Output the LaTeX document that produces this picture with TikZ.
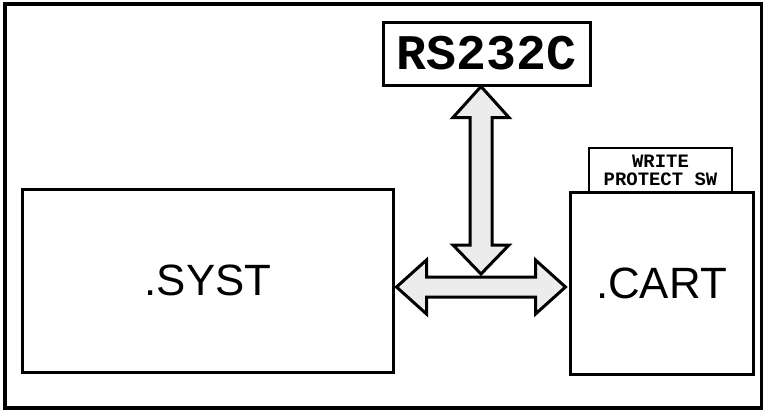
\documentclass[tikz,border=0pt]{standalone}
\usepackage{fontspec}
\setmainfont{Liberation Sans}
\newfontfamily\pixfont{Liberation Mono}
\usepackage{xcolor}
\usetikzlibrary{calc}
\definecolor{stipple}{RGB}{236,236,236}
\tikzset{bigbox/.style={rectangle, draw=black, line width=3bp, fill=white, inner sep=0pt, align=center, font=\fontsize{44}{48}\selectfont}, tagbox/.style={rectangle, draw=black, line width=2.5bp, fill=white, inner sep=0pt, align=center, font=\pixfont\bfseries\fontsize{19}{18}\selectfont}, fatarrow/.style={draw=black, line width=3bp, fill=stipple, line join=miter}}

\begin{document}
\begin{tikzpicture}[x=1bp, y=-1bp]
\useasboundingbox (0,0) rectangle (763,411);
\draw[line width=3.5bp] (5,4) rectangle (762,408);
\node[bigbox, minimum width=370bp, minimum height=183bp] (syst) at (208,280.5) {.SYST};
\node[tagbox, minimum width=143bp, minimum height=44bp] (wp) at (660.5,170) {WRITE\\PROTECT SW};
\node[bigbox, minimum width=183bp, minimum height=182bp] (cart) at (661.5,283) {.CART};
\node[bigbox, minimum width=207bp, minimum height=63bp, font=\pixfont\bfseries\fontsize{50}{50}\selectfont] (rs) at (486.5,53.5) {RS232C};
\path (syst.east |- 0,287) coordinate (hL) (cart.west |- 0,287) coordinate (hR);
\path (rs.south -| 481,0) coordinate (vT) (481,274) coordinate (vB);
% horizontal double arrow between the two boxes
\draw[fatarrow] ($(hL)+(2,0)$) -- ($(hL)+(32,-27)$) -- ($(hL)+(32,-10)$) -- ($(hR)+(-33,-10)$) -- ($(hR)+(-33,-27)$) -- ($(hR)+(-3,0)$) -- ($(hR)+(-33,27)$) -- ($(hR)+(-33,10)$) -- ($(hL)+(32,10)$) -- ($(hL)+(32,27)$) -- cycle;
% vertical double arrow up to the serial port
\draw[fatarrow] (vT) -- ($(vT)+(28,31)$) -- ($(vT)+(11,31)$) -- ($(vB)+(11,-29)$) -- ($(vB)+(28,-29)$) -- (vB) -- ($(vB)+(-28,-29)$) -- ($(vB)+(-11,-29)$) -- ($(vT)+(-11,31)$) -- ($(vT)+(-28,31)$) -- cycle;
\end{tikzpicture}
\end{document}
